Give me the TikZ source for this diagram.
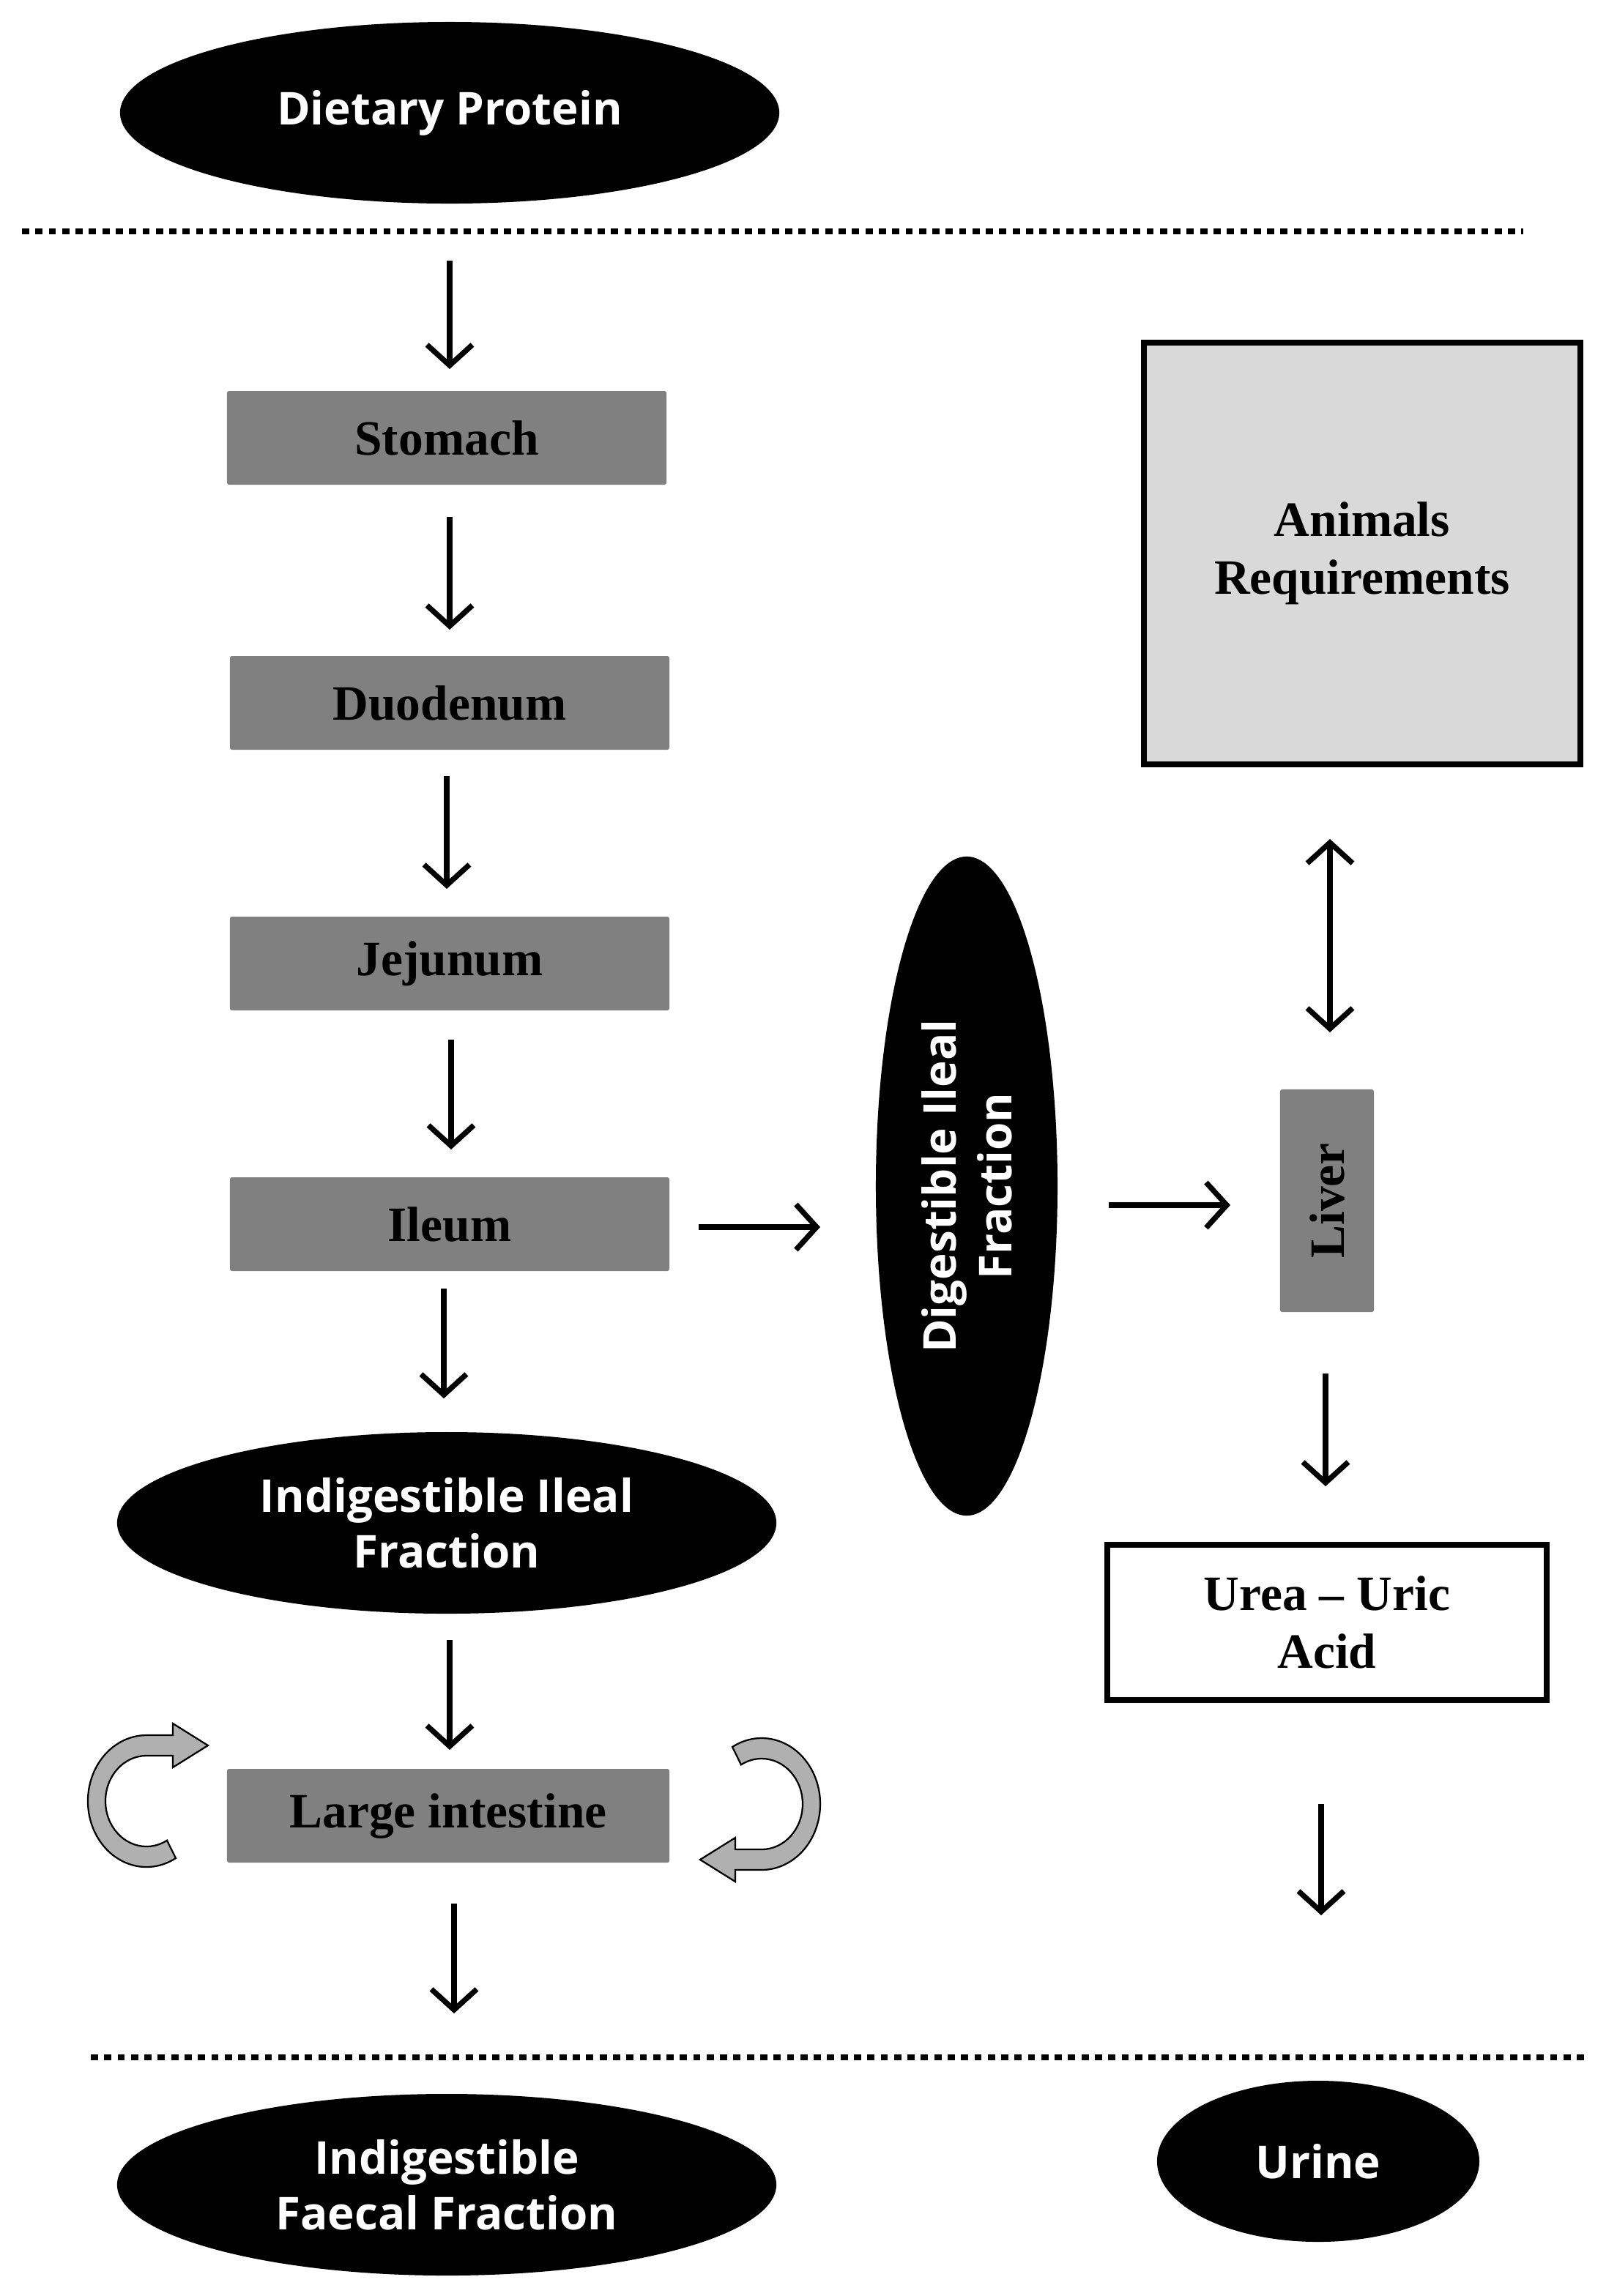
\documentclass[tikz,border=0pt]{standalone}
\usepackage{fontspec}
\setmainfont{Liberation Serif}
\newfontfamily\osans{Open Sans}
\usetikzlibrary{arrows.meta,shapes.geometric}
\definecolor{boxgray}{HTML}{808080}
\definecolor{lightg}{HTML}{D9D9D9}
\definecolor{curlg}{HTML}{B0B0B0}
\tikzset{
 ell/.style={ellipse,fill=black,text=white,font=\osans\bfseries\fontsize{22}{27}\selectfont,align=center,inner sep=0pt},
 gbox/.style={rectangle,fill=boxgray,font=\bfseries\fontsize{24}{28}\selectfont,align=center,rounded corners=1pt},
 arr/.style={line width=2.6pt,-{Straight Barb[length=10pt,width=22pt]}},
 darr/.style={line width=2.6pt,{Straight Barb[length=10pt,width=22pt]}-{Straight Barb[length=10pt,width=22pt]}},
 dotl/.style={line width=3pt,dash pattern=on 3.5pt off 3pt},
 curl/.style={fill=curlg,draw=black,line width=0.8pt}
}
\begin{document}
\begin{tikzpicture}[x=0.025cm,y=-0.025cm]
\useasboundingbox (0,0) rectangle (1104,1568);
\node[ell,minimum width=450\pgflinewidth*0+11.25cm,minimum height=3.1cm] (dp) at (307,77) {Dietary Protein};
\draw[dotl] (15,158) -- (1040,158);
\draw[arr] (307,178) -- (307,252);
\node[gbox,minimum width=7.5cm,minimum height=1.6cm] (st) at (305,299) {Stomach};
\draw[arr] (307,353) -- (307,430);
\node[gbox,minimum width=7.5cm,minimum height=1.6cm] (du) at (307,480) {Duodenum};
\draw[arr] (305,530) -- (305,607);
\node[gbox,minimum width=7.5cm,minimum height=1.6cm] (je) at (307,658) {Jejunum};
\draw[arr] (308,710) -- (308,785);
\node[gbox,minimum width=7.5cm,minimum height=1.6cm] (il) at (307,836) {Ileum};
\draw[arr] (303,880) -- (303,955);
\node[ell,minimum width=11.25cm,minimum height=3.1cm] (iif) at (305,1040) {Indigestible Ileal\\Fraction};
\draw[arr] (307,1120) -- (307,1195);
\node[gbox,minimum width=7.55cm,minimum height=1.6cm] (li) at (306,1240) {Large intestine};
\draw[arr] (310,1300) -- (310,1375);
\draw[dotl] (62,1405) -- (1085,1405);
\node[ell,minimum width=11.25cm,minimum height=3.1cm] (iff) at (305,1492) {Indigestible\\Faecal Fraction};
\node[ell,minimum width=5.5cm,minimum height=2.75cm] (ur) at (900,1476) {Urine};
% curved arrows
\fill[curl] (100,1230) ++(60:40 and 45) arc[start angle=60,end angle=270,x radius=40,y radius=45]
  -- (118,1185) -- (118,1177) -- (142,1192) -- (118,1207) -- (118,1199) -- (100,1199)
  arc[start angle=270,end angle=60,x radius=28,y radius=31] -- cycle;
\fill[curl] (520,1232) ++(-120:40 and 45) arc[start angle=-120,end angle=90,x radius=40,y radius=45]
  -- (502,1277) -- (502,1285) -- (478,1270) -- (502,1255) -- (502,1263) -- (520,1263)
  arc[start angle=90,end angle=-120,x radius=28,y radius=31] -- cycle;
% right part
\draw[arr] (477,838) -- (560,838);
\node[ell,minimum width=3.1cm,minimum height=11.25cm] (dif) at (660,810) {};
\node[rotate=90,text=white,font=\osans\bfseries\fontsize{22}{27}\selectfont,align=center] at (dif) {Digestible Ileal\\Fraction};
\draw[arr] (757,823) -- (840,823);
\node[gbox,minimum width=1.6cm,minimum height=3.8cm] (lv) at (906,820) {};
\node[rotate=90,font=\bfseries\fontsize{24}{28}\selectfont] at (lv) {Liver};
\draw[darr] (908,573) -- (908,705);
\node[draw=black,line width=2.6pt,fill=lightg,minimum width=7.45cm,minimum height=7.2cm,font=\bfseries\fontsize{24}{28}\selectfont,align=center] (ar) at (930,378) {Animals\\Requirements};
\draw[arr] (905,938) -- (905,1015);
\node[draw=black,line width=2.6pt,fill=white,minimum width=7.5cm,minimum height=2.65cm,font=\bfseries\fontsize{24}{28}\selectfont,align=center] (ua) at (906,1108) {Urea -- Uric\\Acid};
\draw[arr] (902,1232) -- (902,1308);
\end{tikzpicture}
\end{document}
